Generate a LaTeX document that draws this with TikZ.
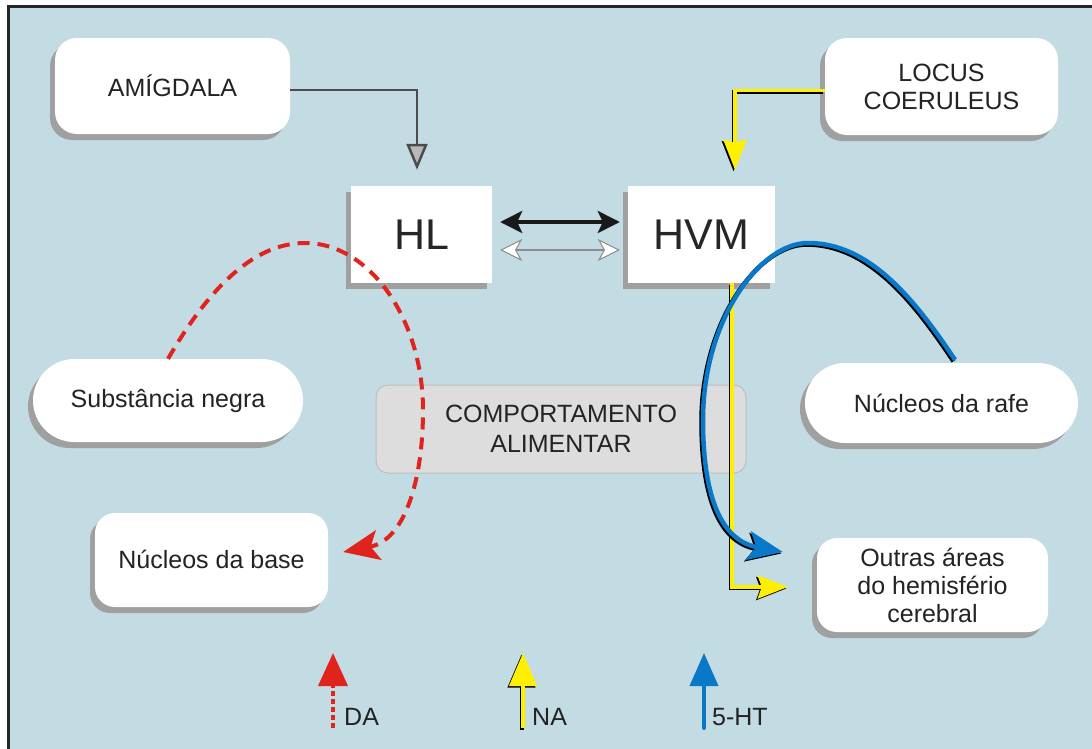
\documentclass[tikz,border=0pt]{standalone}
\usepackage{fontspec}
\setmainfont{Liberation Sans}
\usetikzlibrary{arrows.meta,shadows,shapes.misc}
\definecolor{bgblue}{RGB}{195,220,227}
\definecolor{redDA}{RGB}{225,35,30}
\definecolor{yelNA}{RGB}{255,240,0}
\definecolor{blueHT}{RGB}{10,120,200}
\definecolor{shadowgrey}{RGB}{160,160,160}
\definecolor{compfill}{RGB}{221,221,221}
\definecolor{compdraw}{RGB}{190,190,190}
\definecolor{textgrey}{RGB}{35,35,35}
\tikzset{
  lbl/.style={font=\fontsize{25}{28}\selectfont, text=textgrey},
  box/.style={lbl, fill=white, inner sep=0pt, align=center,
    drop shadow={shadow xshift=-5pt, shadow yshift=-6pt, fill=shadowgrey, opacity=1}},
  rbox/.style={box, rectangle, rounded corners=22pt},
  pill/.style={box, rounded rectangle},
  sqbox/.style={box, rectangle, font=\fontsize{43}{50}\selectfont, text=black!85},
  blackshadow/.style={black, transform canvas={xshift=-1.5pt, yshift=-1.5pt}},
  yel/.style={line width=3.5pt},
  bluel/.style={line width=4.5pt},
}
\begin{document}
\begin{tikzpicture}[x=1pt, y=-1pt]
\useasboundingbox (0,0) rectangle (1092,748);
\clip (0,0) rectangle (1092,748);
\fill[white] (0,0) rectangle (1092,748);
\filldraw[fill=bgblue, draw=black!85, line width=3pt] (8.5,6.5) rectangle (1110,770);

% boxes
\node[rbox, minimum width=235pt, minimum height=96pt] (amig) at (172.5,86) {AMÍGDALA};
\node[rbox, minimum width=233pt, minimum height=97pt] (locus) at (941.5,86.5) {LOCUS\\COERULEUS};
\node[sqbox, minimum width=141pt, minimum height=97pt] (hl) at (421.5,234.5) {HL};
\node[sqbox, minimum width=147pt, minimum height=97pt] (hvm) at (701.5,234.5) {HVM};
\node[lbl, fill=compfill, draw=compdraw, line width=1pt, rounded corners=12pt, align=center,
      minimum width=370pt, minimum height=88pt, inner sep=0pt] (comp) at (561,429)
      {COMPORTAMENTO\\[2pt]ALIMENTAR};
\node[pill, minimum width=270pt, minimum height=83pt] (subst) at (168,400.5) {\raisebox{-3pt}{Substância negra}};
\node[pill, minimum width=273pt, minimum height=80pt] (rafe) at (941.5,403) {Núcleos da rafe};
\node[rbox, rounded corners=20pt, minimum width=233pt, minimum height=94pt] (base) at (211.5,560) {\raisebox{2pt}{Núcleos da base}};
\node[rbox, rounded corners=20pt, minimum width=231pt, minimum height=94pt] (outras) at (932.5,585)
      {Outras áreas\\do hemisfério\\cerebral};

% amygdala -> HL
\draw[black!70, line width=2.5pt, -{Triangle[length=26pt,width=21pt,fill=black!28]}]
  ([yshift=-4pt]amig.east) -| ([xshift=-4.5pt,yshift=16pt]hl.north);

% locus -> HVM (yellow)
\draw[blackshadow, yel, -{Stealth[length=30pt,width=23pt,inset=3pt]}]
  ([yshift=-4pt]locus.west) -| ([xshift=33.5pt,yshift=16pt]hvm.north);
\draw[yelNA, yel, -{Stealth[length=30pt,width=23pt,inset=3pt]}]
  ([yshift=-4pt]locus.west) -| ([xshift=33.5pt,yshift=16pt]hvm.north);

% HL <-> HVM
\draw[black!90, line width=4pt, shorten <=8pt, shorten >=8pt,
      {Stealth[length=22pt,width=22pt,inset=5pt]}-{Stealth[length=22pt,width=22pt,inset=5pt]}]
  ([yshift=12.5pt]hl.east) -- ([yshift=12.5pt]hvm.west);
\draw[black!45, line width=2pt, shorten <=8pt, shorten >=8pt,
      {Stealth[length=22pt,width=22pt,inset=6pt,fill=white,line width=1pt]}-{Stealth[length=22pt,width=22pt,inset=6pt,fill=white,line width=1pt]}]
  ([yshift=-15.5pt]hl.east) -- ([yshift=-15.5pt]hvm.west);

% HVM -> outras (yellow)
\draw[blackshadow, yel, -{Stealth[length=30pt,width=23pt,inset=4pt]}]
  ([xshift=30.5pt]hvm.south) |- ([xshift=-29pt,yshift=-2pt]outras.west);
\draw[yelNA, yel, -{Stealth[length=30pt,width=23pt,inset=4pt]}]
  ([xshift=30.5pt]hvm.south) |- ([xshift=-29pt,yshift=-2pt]outras.west);

% rafe -> outras (blue)
\draw[blackshadow, bluel, -{Stealth[length=35pt,width=29pt,inset=8pt]}]
  ([xshift=13.5pt,yshift=3pt]rafe.north) .. controls (915,300) and (870,243) .. (808,243)
  .. controls (760,243) and (703,320) .. (703,420)
  .. controls (703,490) and (718,540) .. ([xshift=-34pt,yshift=33pt]outras.west);
\draw[blueHT, bluel, -{Stealth[length=35pt,width=29pt,inset=8pt]}]
  ([xshift=13.5pt,yshift=3pt]rafe.north) .. controls (915,300) and (870,243) .. (808,243)
  .. controls (760,243) and (703,320) .. (703,420)
  .. controls (703,490) and (718,540) .. ([xshift=-34pt,yshift=33pt]outras.west);

% substancia negra -> base (red dashed)
\draw[redDA, line width=4pt, dash pattern=on 12pt off 8pt,
      -{Stealth[length=36pt,width=30pt,inset=8pt]}]
  (subst.north) .. controls (205,295) and (250,243) .. (305,243)
  .. controls (370,243) and (423,320) .. (423,410)
  .. controls (423,480) and (405,540) .. ([xshift=15pt,yshift=8pt]base.east);

% legend
\coordinate (daB) at (333,728); \coordinate (daT) at (333,653);
\coordinate (naB) at (523,728); \coordinate (naT) at (523,653);
\coordinate (htB) at (704,728); \coordinate (htT) at (704,653);
\draw[redDA, line width=4pt, dash pattern=on 5pt off 3pt, -{Triangle[length=33pt,width=29pt]}] (daB) -- (daT);
\draw[blackshadow, line width=4pt, -{Triangle[length=33pt,width=27pt]}] (naB) -- (naT);
\draw[yelNA, line width=4pt, -{Triangle[length=33pt,width=27pt]}] (naB) -- (naT);
\draw[blueHT, line width=4pt, line cap=round, -{Triangle[length=33pt,width=28pt]}] (htB) -- (htT);
\node[lbl, anchor=west, inner sep=0pt] (lda) at (344,717) {DA};
\node[lbl, anchor=west, inner sep=0pt] (lna) at (532,717) {NA};
\node[lbl, anchor=west, inner sep=0pt] (lht) at (712,717) {5-HT};
\end{tikzpicture}
\end{document}
